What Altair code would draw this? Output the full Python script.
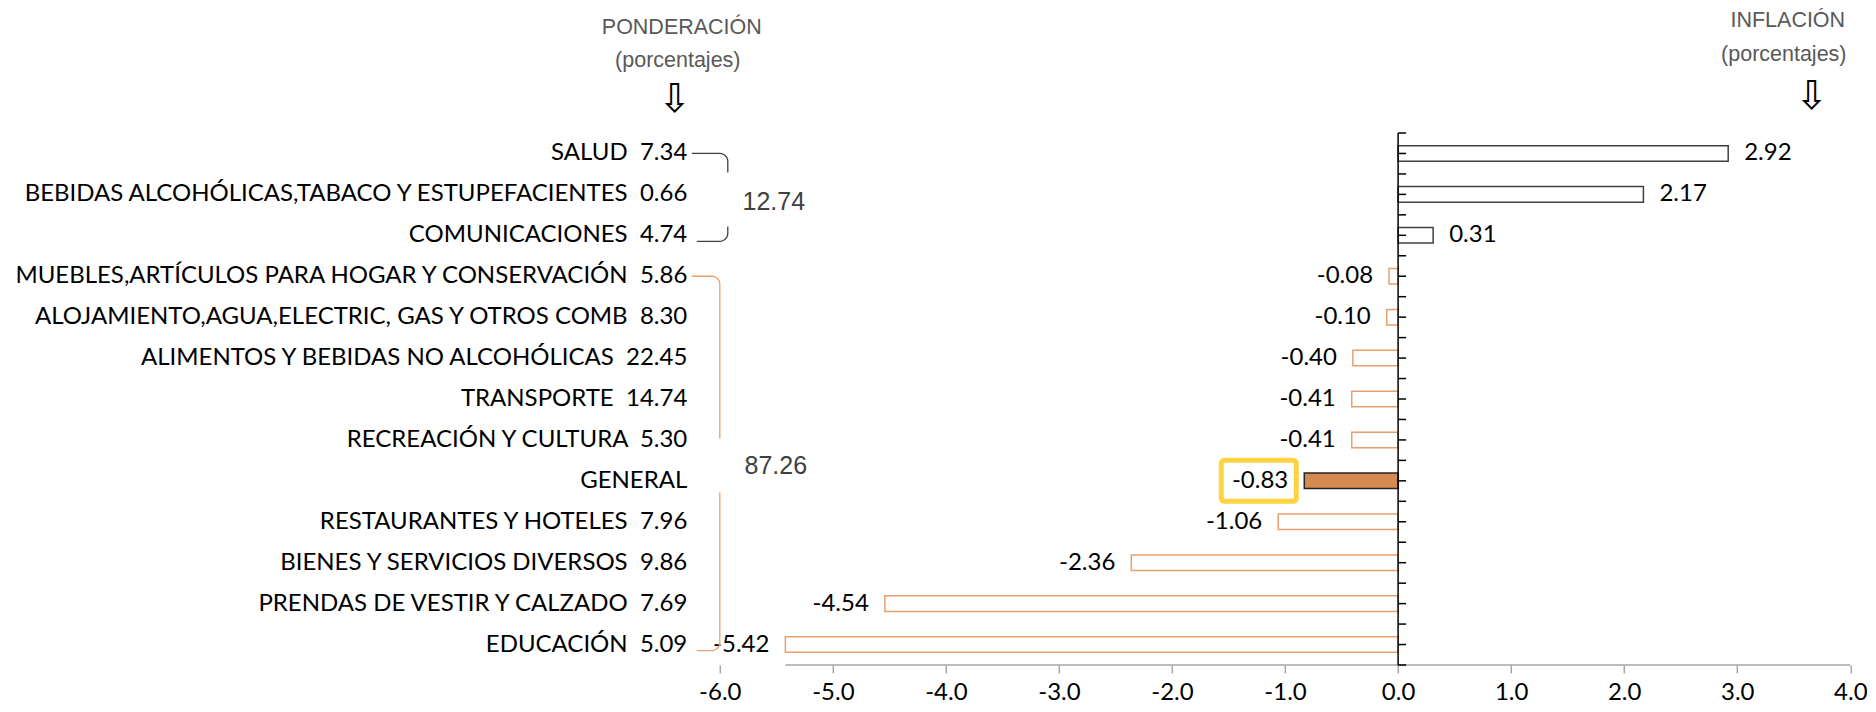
import altair as alt
import numpy as np
import pandas as pd

# ---------------- data ----------------
categories = [
    "SALUD",
    "BEBIDAS ALCOHÓLICAS,TABACO Y ESTUPEFACIENTES",
    "COMUNICACIONES",
    "MUEBLES,ARTÍCULOS PARA HOGAR Y CONSERVACIÓN",
    "ALOJAMIENTO,AGUA,ELECTRIC, GAS Y OTROS COMB",
    "ALIMENTOS Y BEBIDAS NO ALCOHÓLICAS",
    "TRANSPORTE",
    "RECREACIÓN Y CULTURA",
    "GENERAL",
    "RESTAURANTES Y HOTELES",
    "BIENES Y SERVICIOS DIVERSOS",
    "PRENDAS DE VESTIR Y CALZADO",
    "EDUCACIÓN",
]
weights = [7.34, 0.66, 4.74, 5.86, 8.30, 22.45, 14.74, 5.30, None, 7.96, 9.86, 7.69, 5.09]
inflation = [2.92, 2.17, 0.31, -0.08, -0.10, -0.40, -0.41, -0.41, -0.83, -1.06, -2.36, -4.54, -5.42]
group_totals = [12.74, 87.26]
group_first_row = [0, 3]
group_last_row = [2, 12]
x_ticks = [-6.0, -5.0, -4.0, -3.0, -2.0, -1.0, 0.0, 1.0, 2.0, 3.0, 4.0]
highlight = "GENERAL"

# ---------------- layout / style ----------------
W, H = 1130.5, 532
XMIN, XMAX = -6.0, 4.0
n = len(categories)
PX = W / (XMAX - XMIN)   # pixels per x unit
ROW = H / n              # pixels per row

LBL_FONT = "Lato"
HDR_FONT = "Liberation Sans"
POS_STROKE = "#404040"
NEG_STROKE = "#E8A06E"
GEN_FILL = "#D48A50"
GEN_STROKE = "#262626"
BOX_COLOR = "#FFD23F"
GAP = "\u00a0\u00a0"

labels = [c if w is None else f"{c}{GAP}{w:.2f}" for c, w in zip(categories, weights)]
kinds = ["gen" if c == highlight else ("pos" if v > 0 else "neg")
         for c, v in zip(categories, inflation)]
df = pd.DataFrame({"label": labels, "value": inflation, "kind": kinds,
                   "txt": [f"{v:.2f}" for v in inflation]})

ysc = alt.Scale(domain=labels, paddingInner=0.62, paddingOuter=0.31)
qsc = alt.Scale(domain=[0, n], reverse=True, nice=False, zero=False)
xsc = alt.Scale(domain=[XMIN, XMAX], nice=False, zero=False)

x_enc = alt.X("value:Q", scale=xsc,
              axis=alt.Axis(values=x_ticks, title=None, domain=False, grid=False,
                            labelExpr="replace(format(datum.value, '.1f'), '\u2212', '-')",
                            tickColor="#A6A6A6", tickWidth=1.5, tickSize=8,
                            labelFont=LBL_FONT, labelFontSize=24, labelColor="black",
                            labelPadding=8, labelFlush=False))
y_enc = alt.Y("label:N", scale=ysc,
              axis=alt.Axis(title=None, domain=False, ticks=False, labelFont=LBL_FONT,
                            labelFontSize=24, labelColor="black", labelPadding=33,
                            labelLimit=0, labelAlign="right"))
y_plain = alt.Y("label:N", scale=ysc, axis=None)

base = alt.Chart(df)

bars = base.mark_bar(strokeWidth=1.5).encode(
    x=x_enc,
    y=y_enc,
    fill=alt.Fill("kind:N", scale=alt.Scale(domain=["pos", "neg", "gen"],
                                            range=["white", "white", GEN_FILL]), legend=None),
    stroke=alt.Stroke("kind:N", scale=alt.Scale(domain=["pos", "neg", "gen"],
                                                range=[POS_STROKE, NEG_STROKE, GEN_STROKE]), legend=None),
)

pos_txt = base.transform_filter("datum.value > 0").mark_text(
    align="left", baseline="middle", dx=16, font=LBL_FONT, fontSize=24, color="black"
).encode(x=alt.X("value:Q", scale=xsc), y=y_plain, text="txt:N")

neg_txt = base.transform_filter("datum.value <= 0").mark_text(
    align="right", baseline="middle", dx=-16, font=LBL_FONT, fontSize=24, color="black"
).encode(x=alt.X("value:Q", scale=xsc), y=y_plain, text="txt:N")

box = base.transform_filter(alt.datum.label == highlight).mark_rect(
    height=41, xOffset=-83, x2Offset=-8, fillOpacity=0, stroke=BOX_COLOR,
    strokeWidth=5, cornerRadius=3
).encode(x=alt.X("value:Q", scale=xsc), x2="value:Q", y=y_plain)

# vertical axis at zero with ticks every half row (pointing right)
axis_df = pd.DataFrame({"y0": [0.0], "y1": [float(n)]})
yaxis_line = alt.Chart(axis_df).mark_rule(color="black", strokeWidth=1.5).encode(
    x=alt.datum(0.0, scale=xsc), y=alt.Y("y0:Q", scale=qsc, axis=None), y2="y1:Q")

tick_df = pd.DataFrame({"pos": [i * 0.5 for i in range(2 * n + 1)]})
yticks = alt.Chart(tick_df).mark_rule(color="black", strokeWidth=1.5).encode(
    x=alt.datum(0.0, scale=xsc), x2=alt.datum(8 / PX),
    y=alt.Y("pos:Q", scale=qsc, axis=None))

# x baseline, from the smallest bar to the end of the scale
base_df = pd.DataFrame({"a": [min(inflation)], "b": [XMAX]})
xbase = alt.Chart(base_df).mark_rule(color="#A6A6A6", strokeWidth=1.5).encode(
    x=alt.X("a:Q", scale=xsc), x2="b:Q", y=alt.value(H))

# braces grouping the weights
BRACE_COLORS = [POS_STROKE, NEG_STROKE]
BRACE_VERT_PX = [8, 0]
BRACE_START_PX = -28
TOTAL_X_PX = [54, 56]
TOTAL_DY_PX = [8, 6]
R = 8
rows = []
for g in range(len(group_totals)):
    xv = BRACE_VERT_PX[g]
    ytop = (group_first_row[g] + 0.5) * ROW
    ybot = (group_last_row[g] + 0.5) * ROW + 6
    yc = (ytop + ybot) / 2 + 2
    half_gap = 27
    t = np.linspace(0, np.pi / 2, 8)
    pts_top = [(BRACE_START_PX, ytop)] + \
        [(xv - R + R * np.sin(a), ytop + R - R * np.cos(a)) for a in t] + [(xv, yc - half_gap)]
    pts_bot = [(xv, yc + half_gap)] + \
        [(xv - R + R * np.cos(a), ybot - R + R * np.sin(a)) for a in t] + [(BRACE_START_PX + 5, ybot)]
    for s, pts in enumerate([pts_top, pts_bot]):
        for i, (px, py) in enumerate(pts):
            rows.append({"x": XMIN + px / PX, "y": py / ROW, "seg": f"{g}-{s}", "i": i, "g": str(g)})
brace_df = pd.DataFrame(rows)
braces = alt.Chart(brace_df).mark_line(strokeWidth=1.3).encode(
    x=alt.X("x:Q", scale=xsc), y=alt.Y("y:Q", scale=qsc, axis=None),
    detail="seg:N", order="i:Q",
    color=alt.Color("g:N", scale=alt.Scale(domain=["0", "1"], range=BRACE_COLORS), legend=None))

tot_df = pd.DataFrame({
    "x": [XMIN + p / PX for p in TOTAL_X_PX],
    "y": [((f + 0.5) + (l + 0.5)) / 2 + d / ROW
          for f, l, d in zip(group_first_row, group_last_row, TOTAL_DY_PX)],
    "t": [f"{v:.2f}" for v in group_totals],
})
totals = alt.Chart(tot_df).mark_text(font=HDR_FONT, fontSize=25, color="#404040",
                                     align="center", baseline="middle").encode(
    x=alt.X("x:Q", scale=xsc), y=alt.Y("y:Q", scale=qsc, axis=None), text="t:N")

# headers
hdr_df = pd.DataFrame({
    "t": ["PONDERACIÓN", "(porcentajes)", "INFLACIÓN", "(porcentajes)"],
    "px": [-38, -42, 1068, 1064],
    "py": [-105, -72, -112, -78],
})
headers = alt.Chart(hdr_df).mark_text(font=HDR_FONT, fontSize=21.5, color="#595959",
                                      align="center", baseline="middle").encode(
    x=alt.X("px:Q", scale=None), y=alt.Y("py:Q", scale=None), text="t:N")
arr_df = pd.DataFrame({"t": ["⇩", "⇩"], "px": [-45, 1092], "py": [-33, -36]})
arrows = alt.Chart(arr_df).mark_text(font="DejaVu Sans", fontSize=40, color="black",
                                     align="center", baseline="middle").encode(
    x=alt.X("px:Q", scale=None), y=alt.Y("py:Q", scale=None), text="t:N")

chart = alt.layer(
    bars, xbase, yaxis_line, yticks, pos_txt, neg_txt, box, braces, totals, headers, arrows
).resolve_scale(y="independent").properties(
    width=W, height=H,
    background="white",
    autosize=alt.AutoSizeParams(type="none"),
    padding={"left": 711.8, "top": 125, "right": 17, "bottom": 39},
).configure_view(stroke=None)

chart.save("out.html", embed_options={"renderer": "svg", "actions": False})
